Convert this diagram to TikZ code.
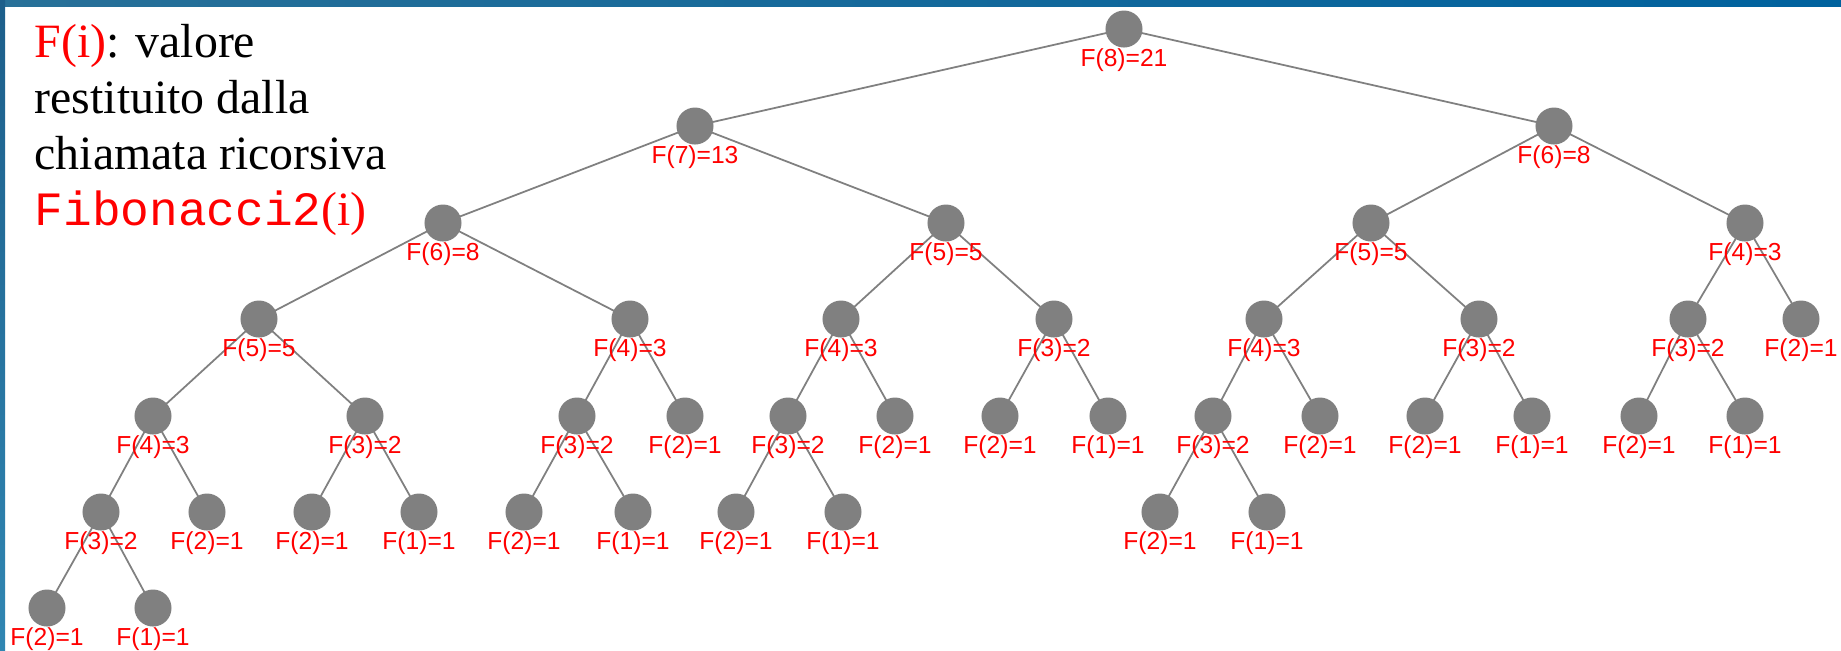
\documentclass[tikz,border=0pt]{standalone}
\usepackage{fontspec}
\setmainfont{Liberation Serif}
\setmonofont{Liberation Mono}
\newfontfamily\labelfont{Liberation Sans}

\definecolor{nodegray}{RGB}{128,128,128}
\definecolor{edgegray}{RGB}{128,128,128}
\definecolor{labelred}{RGB}{255,0,0}
\definecolor{bandleft}{RGB}{40,112,152}
\definecolor{bandright}{RGB}{0,98,158}
\definecolor{sidetop}{RGB}{28,94,138}
\definecolor{sidebottom}{RGB}{48,134,178}

\pgfdeclarelayer{frame}
\pgfdeclarelayer{edges}
\pgfsetlayers{frame,edges,main}

\tikzset{
	fibnode/.style={circle, fill=nodegray, minimum size=0.37cm, inner sep=0pt, label distance=0.04cm},
	fiblabel/.style={text=labelred, font=\labelfont\fontsize{7}{8}\selectfont, inner sep=0pt},
	fibedge/.style={draw=edgegray, line width=0.5pt}
}

\begin{document}
\begin{tikzpicture}[x=0.01cm, y=-0.01cm]
			
			\useasboundingbox (0,0) rectangle (1841,650);
			
			\begin{pgfonlayer}{frame}
				\fill[white] (0,0) rectangle (1841,650);
				\shade[left color=bandleft, right color=bandright] (0,0) rectangle (1841,6);
				\shade[top color=sidetop, bottom color=sidebottom] (0,0) rectangle (5,650);
			\end{pgfonlayer}
			
			% base of the last line
			\node[anchor=base west,
			align=left,
			inner sep=0pt,
			font=\fontsize{13.6}{15.9}\selectfont] (legend) at (34,225)
			{\textcolor{labelred}{F(i)}: valore\\restituito dalla\\chiamata ricorsiva\\\textcolor{labelred}{\texttt{Fibonacci2}(i)}};
			
			% level 0 and 1
			\node[fibnode, label={[fiblabel]below:F(8)=21}] (n1) at (1124,29) {};
			\node[fibnode, label={[fiblabel]below:F(7)=13}] (n2) at (695,126) {};
			\node[fibnode, label={[fiblabel]below:F(6)=8}] (n3) at (1554,126) {};
			
			% level 2
			\node[fibnode, label={[fiblabel]below:F(6)=8}] (n4) at (443,223) {};
			\node[fibnode, label={[fiblabel]below:F(5)=5}] (n5) at (946,223) {};
			\node[fibnode, label={[fiblabel]below:F(5)=5}] (n6) at (1371,223) {};
			\node[fibnode, label={[fiblabel]below:F(4)=3}] (n7) at (1745,223) {};
			
			% level 3
			\node[fibnode, label={[fiblabel]below:F(5)=5}] (n8) at (259,319) {};
			\node[fibnode, label={[fiblabel]below:F(4)=3}] (n9) at (630,319) {};
			\node[fibnode, label={[fiblabel]below:F(4)=3}] (n10) at (841,319) {};
			\node[fibnode, label={[fiblabel]below:F(3)=2}] (n11) at (1054,319) {};
			\node[fibnode, label={[fiblabel]below:F(4)=3}] (n12) at (1264,319) {};
			\node[fibnode, label={[fiblabel]below:F(3)=2}] (n13) at (1479,319) {};
			\node[fibnode, label={[fiblabel]below:F(3)=2}] (n14) at (1688,319) {};
			\node[fibnode, label={[fiblabel]below:F(2)=1}] (n15) at (1801,319) {};
			
			% level 4
			\node[fibnode, label={[fiblabel]below:F(4)=3}] (n16) at (153,416) {};
			\node[fibnode, label={[fiblabel]below:F(3)=2}] (n17) at (365,416) {};
			\node[fibnode, label={[fiblabel]below:F(3)=2}] (n18) at (577,416) {};
			\node[fibnode, label={[fiblabel]below:F(2)=1}] (n19) at (685,416) {};
			\node[fibnode, label={[fiblabel]below:F(3)=2}] (n20) at (788,416) {};
			\node[fibnode, label={[fiblabel]below:F(2)=1}] (n21) at (895,416) {};
			\node[fibnode, label={[fiblabel]below:F(2)=1}] (n22) at (1000,416) {};
			\node[fibnode, label={[fiblabel]below:F(1)=1}] (n23) at (1108,416) {};
			\node[fibnode, label={[fiblabel]below:F(3)=2}] (n24) at (1213,416) {};
			\node[fibnode, label={[fiblabel]below:F(2)=1}] (n25) at (1320,416) {};
			\node[fibnode, label={[fiblabel]below:F(2)=1}] (n26) at (1425,416) {};
			\node[fibnode, label={[fiblabel]below:F(1)=1}] (n27) at (1532,416) {};
			\node[fibnode, label={[fiblabel]below:F(2)=1}] (n28) at (1639,416) {};
			\node[fibnode, label={[fiblabel]below:F(1)=1}] (n29) at (1745,416) {};
			
			% level 5
			\node[fibnode, label={[fiblabel]below:F(3)=2}] (n32) at (101,512) {};
			\node[fibnode, label={[fiblabel]below:F(2)=1}] (n33) at (207,512) {};
			\node[fibnode, label={[fiblabel]below:F(2)=1}] (n34) at (312,512) {};
			\node[fibnode, label={[fiblabel]below:F(1)=1}] (n35) at (419,512) {};
			\node[fibnode, label={[fiblabel]below:F(2)=1}] (n36) at (524,512) {};
			\node[fibnode, label={[fiblabel]below:F(1)=1}] (n37) at (633,512) {};
			\node[fibnode, label={[fiblabel]below:F(2)=1}] (n40) at (736,512) {};
			\node[fibnode, label={[fiblabel]below:F(1)=1}] (n41) at (843,512) {};
			\node[fibnode, label={[fiblabel]below:F(2)=1}] (n48) at (1160,512) {};
			\node[fibnode, label={[fiblabel]below:F(1)=1}] (n49) at (1267,512) {};
			
			% level 6
			\node[fibnode, label={[fiblabel]below:F(2)=1}] (n64) at (47,608) {};
			\node[fibnode, label={[fiblabel]below:F(1)=1}] (n65) at (153,608) {};
			
			\begin{pgfonlayer}{edges}
				\draw[fibedge] (n1.center) to (n2.center);
				\draw[fibedge] (n1.center) to (n3.center);
				\draw[fibedge] (n2.center) to (n4.center);
				\draw[fibedge] (n2.center) to (n5.center);
				\draw[fibedge] (n3.center) to (n6.center);
				\draw[fibedge] (n3.center) to (n7.center);
				\draw[fibedge] (n4.center) to (n8.center);
				\draw[fibedge] (n4.center) to (n9.center);
				\draw[fibedge] (n5.center) to (n10.center);
				\draw[fibedge] (n5.center) to (n11.center);
				\draw[fibedge] (n6.center) to (n12.center);
				\draw[fibedge] (n6.center) to (n13.center);
				\draw[fibedge] (n7.center) to (n14.center);
				\draw[fibedge] (n7.center) to (n15.center);
				\draw[fibedge] (n8.center) to (n16.center);
				\draw[fibedge] (n8.center) to (n17.center);
				\draw[fibedge] (n9.center) to (n18.center);
				\draw[fibedge] (n9.center) to (n19.center);
				\draw[fibedge] (n10.center) to (n20.center);
				\draw[fibedge] (n10.center) to (n21.center);
				\draw[fibedge] (n11.center) to (n22.center);
				\draw[fibedge] (n11.center) to (n23.center);
				\draw[fibedge] (n12.center) to (n24.center);
				\draw[fibedge] (n12.center) to (n25.center);
				\draw[fibedge] (n13.center) to (n26.center);
				\draw[fibedge] (n13.center) to (n27.center);
				\draw[fibedge] (n14.center) to (n28.center);
				\draw[fibedge] (n14.center) to (n29.center);
				\draw[fibedge] (n16.center) to (n32.center);
				\draw[fibedge] (n16.center) to (n33.center);
				\draw[fibedge] (n17.center) to (n34.center);
				\draw[fibedge] (n17.center) to (n35.center);
				\draw[fibedge] (n18.center) to (n36.center);
				\draw[fibedge] (n18.center) to (n37.center);
				\draw[fibedge] (n20.center) to (n40.center);
				\draw[fibedge] (n20.center) to (n41.center);
				\draw[fibedge] (n24.center) to (n48.center);
				\draw[fibedge] (n24.center) to (n49.center);
				\draw[fibedge] (n32.center) to (n64.center);
				\draw[fibedge] (n32.center) to (n65.center);
			\end{pgfonlayer}
			
		\end{tikzpicture}
\end{document}
